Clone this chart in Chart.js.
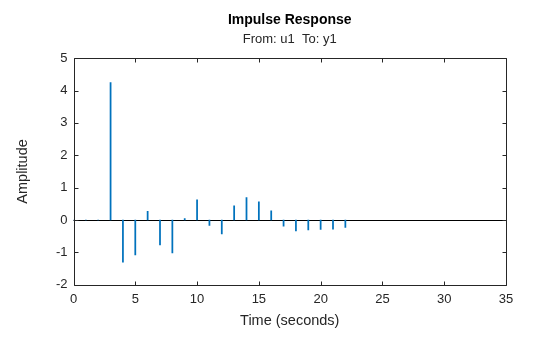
<!DOCTYPE html>
<html>
<head>
<meta charset="utf-8">
<script src="https://cdn.jsdelivr.net/npm/chart.js@4/dist/chart.umd.min.js"></script>
<style>
  html, body { margin: 0; padding: 0; background: #ffffff; }
  #wrap { width: 560px; height: 337px; position: relative; }
</style>
</head>
<body>
<div id="wrap"><canvas id="c" width="560" height="337"></canvas></div>
<script>
// Impulse response samples (time in seconds, amplitude)
const times = [0, 1, 2, 3, 4, 5, 6, 7, 8, 9, 10, 11, 12, 13, 14, 15, 16, 17, 18, 19, 20, 21, 22];
const amplitude = [0, 0, 0, 4.25, -1.30, -1.08, 0.27, -0.77, -1.02, 0.04, 0.62, -0.17, -0.43,
                   0.44, 0.69, 0.56, 0.28, -0.19, -0.34, -0.31, -0.29, -0.28, -0.23];

const xTicks = [0, 5, 10, 15, 20, 25, 30, 35];
const yTicks = [-2, -1, 0, 1, 2, 3, 4, 5];

const titleText = 'Impulse Response';
const subtitleText = 'From: u1  To: y1';
const xLabel = 'Time (seconds)';
const yLabel = 'Amplitude';

const FONT = "'Liberation Sans', Arial, Helvetica, sans-serif";
const TEXT = '#262626';
const AXIS = '#262626';

// Box around the axes, inward tick marks and the zero reference line
const axesBox = {
  id: 'axesBox',
  beforeDatasetsDraw(chart) {
    const { ctx, chartArea: a, scales: { y } } = chart;
    ctx.save();
    ctx.strokeStyle = '#000000';
    ctx.lineWidth = 1;
    const y0 = Math.round(y.getPixelForValue(0)) + 0.5;
    ctx.beginPath();
    ctx.moveTo(a.left, y0);
    ctx.lineTo(a.right, y0);
    ctx.stroke();
    ctx.restore();
  },
  afterDraw(chart) {
    const { ctx, chartArea: a, scales: { x, y } } = chart;
    const L = Math.round(a.left) + 0.5, R = Math.round(a.right) + 0.5;
    const T = Math.round(a.top) + 0.5, B = Math.round(a.bottom) + 0.5;
    const len = 4;
    ctx.save();
    ctx.strokeStyle = AXIS;
    ctx.lineWidth = 1;
    ctx.beginPath();
    ctx.rect(L, T, R - L, B - T);
    x.ticks.forEach(t => {
      const px = Math.round(x.getPixelForValue(t.value)) + 0.5;
      ctx.moveTo(px, B); ctx.lineTo(px, B - len);
      ctx.moveTo(px, T); ctx.lineTo(px, T + len);
    });
    y.ticks.forEach(t => {
      const py = Math.round(y.getPixelForValue(t.value)) + 0.5;
      ctx.moveTo(L, py); ctx.lineTo(L + len, py);
      ctx.moveTo(R, py); ctx.lineTo(R - len, py);
    });
    ctx.stroke();
    ctx.restore();
  }
};

new Chart(document.getElementById('c'), {
  type: 'bar',
  data: {
    datasets: [{
      data: times.map((t, i) => ({ x: t, y: amplitude[i] })),
      backgroundColor: '#0072BD',
      borderWidth: 0,
      barThickness: 1.1
    }]
  },
  plugins: [axesBox],
  options: {
    responsive: false,
    animation: false,
    devicePixelRatio: 1,
    layout: { padding: { left: 0, right: 54, top: 0, bottom: 0 } },
    plugins: {
      legend: { display: false },
      tooltip: { enabled: false },
      title: {
        display: true,
        fullSize: false,
        text: titleText,
        color: '#000000',
        font: { family: FONT, size: 14, weight: 'bold' },
        padding: { top: 12, bottom: 0 }
      },
      subtitle: {
        display: true,
        fullSize: false,
        text: subtitleText,
        color: TEXT,
        font: { family: FONT, size: 13 },
        padding: { top: 2.5, bottom: 11.3 }
      }
    },
    scales: {
      x: {
        type: 'linear',
        min: 0,
        max: 35,
        offset: false,
        afterBuildTicks(scale) { scale.ticks = xTicks.map(v => ({ value: v })); },
        afterFit(scale) { scale.height = 52.3; },
        grid: { display: false, drawTicks: false },
        border: { display: false },
        ticks: { color: TEXT, font: { family: FONT, size: 13 }, padding: 7, maxRotation: 0 },
        title: {
          display: true,
          text: xLabel,
          color: TEXT,
          font: { family: FONT, size: 14.5 },
          padding: { top: 0, bottom: 7.4 }
        }
      },
      y: {
        type: 'linear',
        min: -2,
        max: 5,
        afterBuildTicks(scale) { scale.ticks = yTicks.map(v => ({ value: v })); },
        afterFit(scale) { scale.width = 73.5; },
        grid: { display: false, drawTicks: false },
        border: { display: false },
        ticks: { color: TEXT, font: { family: FONT, size: 13 }, padding: 6 },
        title: {
          display: true,
          text: yLabel,
          color: TEXT,
          font: { family: FONT, size: 14.5 },
          padding: { top: 14.7, bottom: 0 }
        }
      }
    }
  }
});
</script>
</body>
</html>
